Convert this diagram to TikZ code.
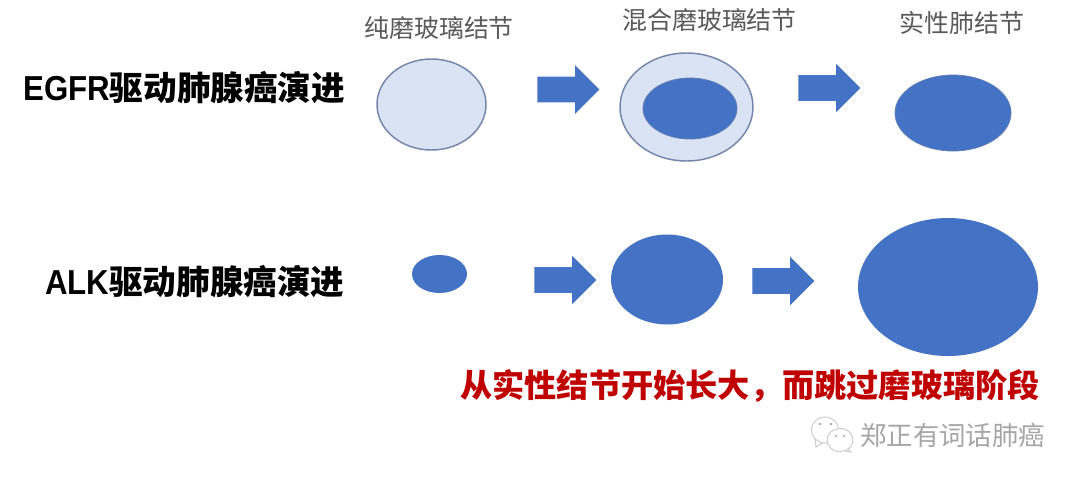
\documentclass[tikz,border=0pt]{standalone}
\usepackage{fontspec}
\setmainfont{Noto Sans CJK SC}
\newfontfamily\latinhead[FakeStretch=0.9]{Liberation Sans}
\usetikzlibrary{shapes.arrows,shapes.geometric}
\definecolor{nodeblue}{HTML}{4472C4}
\definecolor{paleblue}{HTML}{DAE3F3}
\definecolor{rimblue}{HTML}{7486AB}
\definecolor{labelgray}{HTML}{5A5A5A}
\definecolor{alertred}{HTML}{C00000}
\definecolor{markgray}{HTML}{A6A6A6}
\newcommand{\blob}[5][solidnode]{\node[#1,minimum width=#4*0.75pt,minimum height=#5*0.75pt] (#2) at (#3) {};}
\newcommand{\lat}[1]{{\latinhead\fontsize{26}{30}\selectfont\bfseries #1}}
\tikzset{
  x=0.75pt,y=-0.75pt,
  solidnode/.style={ellipse,fill=nodeblue,draw=none,inner sep=0pt},
  palenode/.style={ellipse,fill=paleblue,draw=rimblue,line width=1.1pt,inner sep=0pt},
  solidrim/.style={ellipse,fill=nodeblue,draw=rimblue!60!nodeblue,line width=0.6pt,inner sep=0pt},
  blockarrow/.style={single arrow,fill=nodeblue,draw=none,minimum height=46.5pt,minimum width=36pt,
    inner sep=9.4pt,single arrow head extend=8.6pt,single arrow tip angle=90},
  heading/.style={anchor=base west,inner sep=0pt,font=\fontsize{25.2}{30}\selectfont\bfseries,text=black},
  stagelabel/.style={anchor=base west,inner sep=0pt,font=\fontsize{18.7}{22}\selectfont,text=labelgray},
  alert/.style={anchor=base west,inner sep=0pt,font=\fontsize{24.15}{29}\selectfont\bfseries,text=alertred},
  watermark/.style={anchor=base west,inner sep=0pt,font=\fontsize{19.8}{24}\selectfont,text=markgray},
  bubble/.style={ellipse,draw=markgray!60,fill=white,line width=0.7pt,inner sep=0pt},
  bubbletail/.style={fill=white,draw=markgray!60,line width=0.7pt},
}
\begin{document}
\begin{tikzpicture}
\useasboundingbox[fill=white] (0,0) rectangle (1080,483);
% headings
\node[heading] (h1) at (23,100) {\lat{EGFR}驱动肺腺癌演进};
\node[heading] (h2) at (45,294) {\lat{ALK}驱动肺腺癌演进};
% stage labels
\node[stagelabel] (l1) at (364,37) {纯磨玻璃结节};
\node[stagelabel] (l2) at (622,29) {混合磨玻璃结节};
\node[stagelabel] (l3) at (899,32) {实性肺结节};
% EGFR row
\blob[palenode]{e1}{431.5,104.5}{109}{91}
\blob[palenode]{e2}{686.5,107}{133}{108}
\blob[solidrim]{e2i}{690,108.5}{94}{61}
\blob[solidrim]{e3}{953,113}{116}{76}
\node[blockarrow] (a1) at (562,89.5) {};
\node[blockarrow] (a2) at (823,88) {};
% ALK row
\blob{k1}{439.5,274}{55}{38}
\blob{k2}{667,279.5}{112}{90}
\blob{k3}{948,287}{180}{138}
\node[blockarrow] (a3) at (559,280) {};
\node[blockarrow] (a4) at (777,281) {};
% caption
\node[alert] (c) at (460,397) {从实性结节开始长大，而跳过磨玻璃阶段};
% watermark
\node[watermark] (w) at (860,445) {郑正有词话肺癌};
\fill[bubbletail] (815,438) -- (816,447) -- (824,442) -- cycle;
\node[bubble,minimum width=20.5pt,minimum height=19.5pt] (b1) at (825,430) {};
\fill[bubbletail] (846,446) -- (851,452) -- (840,450) -- cycle;
\node[bubble,minimum width=19.5pt,minimum height=17.5pt] (b2) at (840,440) {};
\fill[markgray] (820,424) circle[radius=1.3] (831,424) circle[radius=1.3] (836,436) circle[radius=1.2] (844,436) circle[radius=1.2];
\end{tikzpicture}
\end{document}
